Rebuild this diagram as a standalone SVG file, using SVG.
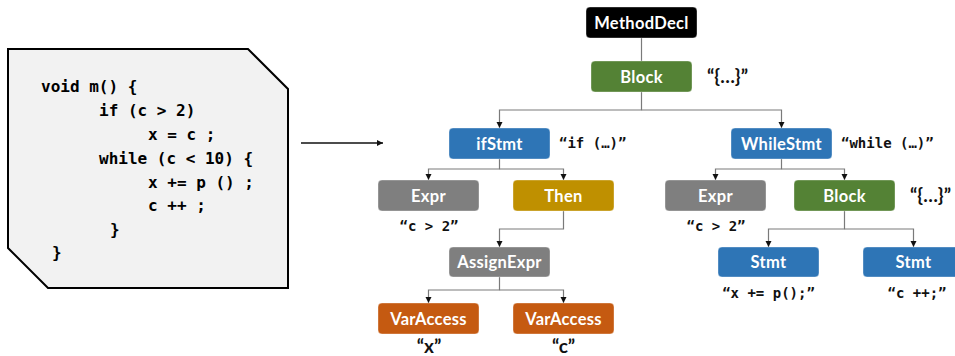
<svg xmlns="http://www.w3.org/2000/svg" width="955" height="356" viewBox="0 0 955 356">
  <style>
    .code { font-family: "DejaVu Sans Mono", "Liberation Mono", monospace; font-weight: bold; font-size: 16px; fill: #000; }
    .node rect { stroke: #ffffff; stroke-opacity: 0.35; stroke-width: 1; }
    .node text { font-family: Lato, "Open Sans", sans-serif; font-weight: bold; font-size: 16.5px; fill: #fff; text-anchor: middle; letter-spacing: 0.3px; }
    .lbl { font-family: "DejaVu Sans Mono", "Liberation Mono", monospace; font-weight: bold; font-size: 14px; fill: #111; }
    .lbls { font-family: Lato, "Open Sans", sans-serif; font-weight: bold; font-size: 19px; fill: #111; }
    .edge { fill: none; stroke: #7a7a7a; stroke-width: 1.2; }
    .black { fill: #000; }
    .green { fill: #548235; }
    .blue { fill: #2e75b6; }
    .gray { fill: #7f7f7f; }
    .gold { fill: #bf9000; }
    .orange { fill: #c55a11; }
  </style>
  <defs>
    <marker id="arrow" markerUnits="userSpaceOnUse" markerWidth="7" markerHeight="7" refX="6" refY="3.5" orient="auto">
      <path d="M0,0.5 L6,3.5 L0,6.5 z" fill="#111"/>
    </marker>
  </defs>

  <!-- source code card -->
  <g id="code">
    <polygon points="8,49 248,49 288,89 288,288 48,288 8,248" fill="#f2f2f2" stroke="#000" stroke-width="2"/>
    <text class="code" x="41" y="92">void m() {</text>
    <text class="code" x="99" y="116">if (c &gt; 2)</text>
    <text class="code" x="148" y="140">x = c ;</text>
    <text class="code" x="99" y="164">while (c &lt; 10) {</text>
    <text class="code" x="148" y="188">x += p () ;</text>
    <text class="code" x="148" y="211">c ++ ;</text>
    <text class="code" x="110" y="235">}</text>
    <text class="code" x="52" y="258">}</text>
  </g>

  <!-- connectors -->
  <g id="connectors">
    <path d="M301,143 H383" fill="none" stroke="#111" stroke-width="1.5" marker-end="url(#arrow)"/>
    <path class="edge" d="M641.5,38 V61"/>
    <path class="edge" d="M641.5,92 V110 H499.5 V128" marker-end="url(#arrow)"/>
    <path class="edge" d="M641.5,110 H781.5 V128" marker-end="url(#arrow)"/>
    <path class="edge" d="M499.5,159 V169 H428.5 V180" marker-end="url(#arrow)"/>
    <path class="edge" d="M499.5,169 H563.5 V180" marker-end="url(#arrow)"/>
    <path class="edge" d="M563.5,211 V229 H499.5 V247" marker-end="url(#arrow)"/>
    <path class="edge" d="M499.5,277 V290 H428.5 V303" marker-end="url(#arrow)"/>
    <path class="edge" d="M499.5,290 H563.5 V303" marker-end="url(#arrow)"/>
    <path class="edge" d="M781.5,159 V169 H715.5 V180" marker-end="url(#arrow)"/>
    <path class="edge" d="M781.5,169 H844.5 V180" marker-end="url(#arrow)"/>
    <path class="edge" d="M844.5,211 V229 H768.5 V247" marker-end="url(#arrow)"/>
    <path class="edge" d="M844.5,229 H913.5 V247" marker-end="url(#arrow)"/>
  </g>

  <!-- AST nodes -->
  <g id="methodDecl" class="node">
    <rect class="black" x="586" y="7" width="111" height="31" rx="4"/>
    <text x="641.5" y="28.5">MethodDecl</text>
  </g>
  <g id="block" class="node">
    <rect class="green" x="591" y="61" width="101" height="31" rx="4"/>
    <text x="641.5" y="82.5">Block</text>
  </g>
  <text class="lbls" x="707" y="83">“{…}”</text>

  <g id="ifStmt" class="node">
    <rect class="blue" x="449" y="128" width="101" height="31" rx="4"/>
    <text x="499.5" y="149.5">ifStmt</text>
  </g>
  <text class="lbl" x="559" y="148">“if (…)”</text>

  <g id="whileStmt" class="node">
    <rect class="blue" x="731" y="128" width="101" height="31" rx="4"/>
    <text x="781.5" y="149.5">WhileStmt</text>
  </g>
  <text class="lbl" x="841" y="148">“while (…)”</text>

  <g id="ifExpr" class="node">
    <rect class="gray" x="378" y="180" width="101" height="31" rx="4"/>
    <text x="428.5" y="201.5">Expr</text>
  </g>
  <text class="lbl" x="429" y="231" text-anchor="middle">“c &gt; 2”</text>

  <g id="then" class="node">
    <rect class="gold" x="513" y="180" width="101" height="31" rx="4"/>
    <text x="563.5" y="201.5">Then</text>
  </g>

  <g id="whileExpr" class="node">
    <rect class="gray" x="665" y="180" width="101" height="31" rx="4"/>
    <text x="715.5" y="201.5">Expr</text>
  </g>
  <text class="lbl" x="716" y="231" text-anchor="middle">“c &gt; 2”</text>

  <g id="whileBlock" class="node">
    <rect class="green" x="794" y="180" width="101" height="31" rx="4"/>
    <text x="844.5" y="201.5">Block</text>
  </g>
  <text class="lbls" x="910" y="202">“{…}”</text>

  <g id="assignExpr" class="node">
    <rect class="gray" x="449" y="247" width="101" height="30" rx="4"/>
    <text x="499.5" y="268">AssignExpr</text>
  </g>

  <g id="stmt1" class="node">
    <rect class="blue" x="718" y="247" width="101" height="30" rx="4"/>
    <text x="768.5" y="268">Stmt</text>
  </g>
  <text class="lbl" x="768.5" y="298" text-anchor="middle">“x += p();”</text>

  <g id="stmt2" class="node">
    <rect class="blue" x="863" y="247" width="101" height="30" rx="4"/>
    <text x="913.5" y="268">Stmt</text>
  </g>
  <text class="lbl" x="917" y="298" text-anchor="middle">“c ++;”</text>

  <g id="varX" class="node">
    <rect class="orange" x="378" y="303" width="101" height="31" rx="4"/>
    <text x="428.5" y="324.5">VarAccess</text>
  </g>
  <text class="lbls" x="429" y="353" text-anchor="middle">“x”</text>

  <g id="varC" class="node">
    <rect class="orange" x="513" y="303" width="101" height="31" rx="4"/>
    <text x="563.5" y="324.5">VarAccess</text>
  </g>
  <text class="lbls" x="563.5" y="353" text-anchor="middle">“c”</text>
</svg>
